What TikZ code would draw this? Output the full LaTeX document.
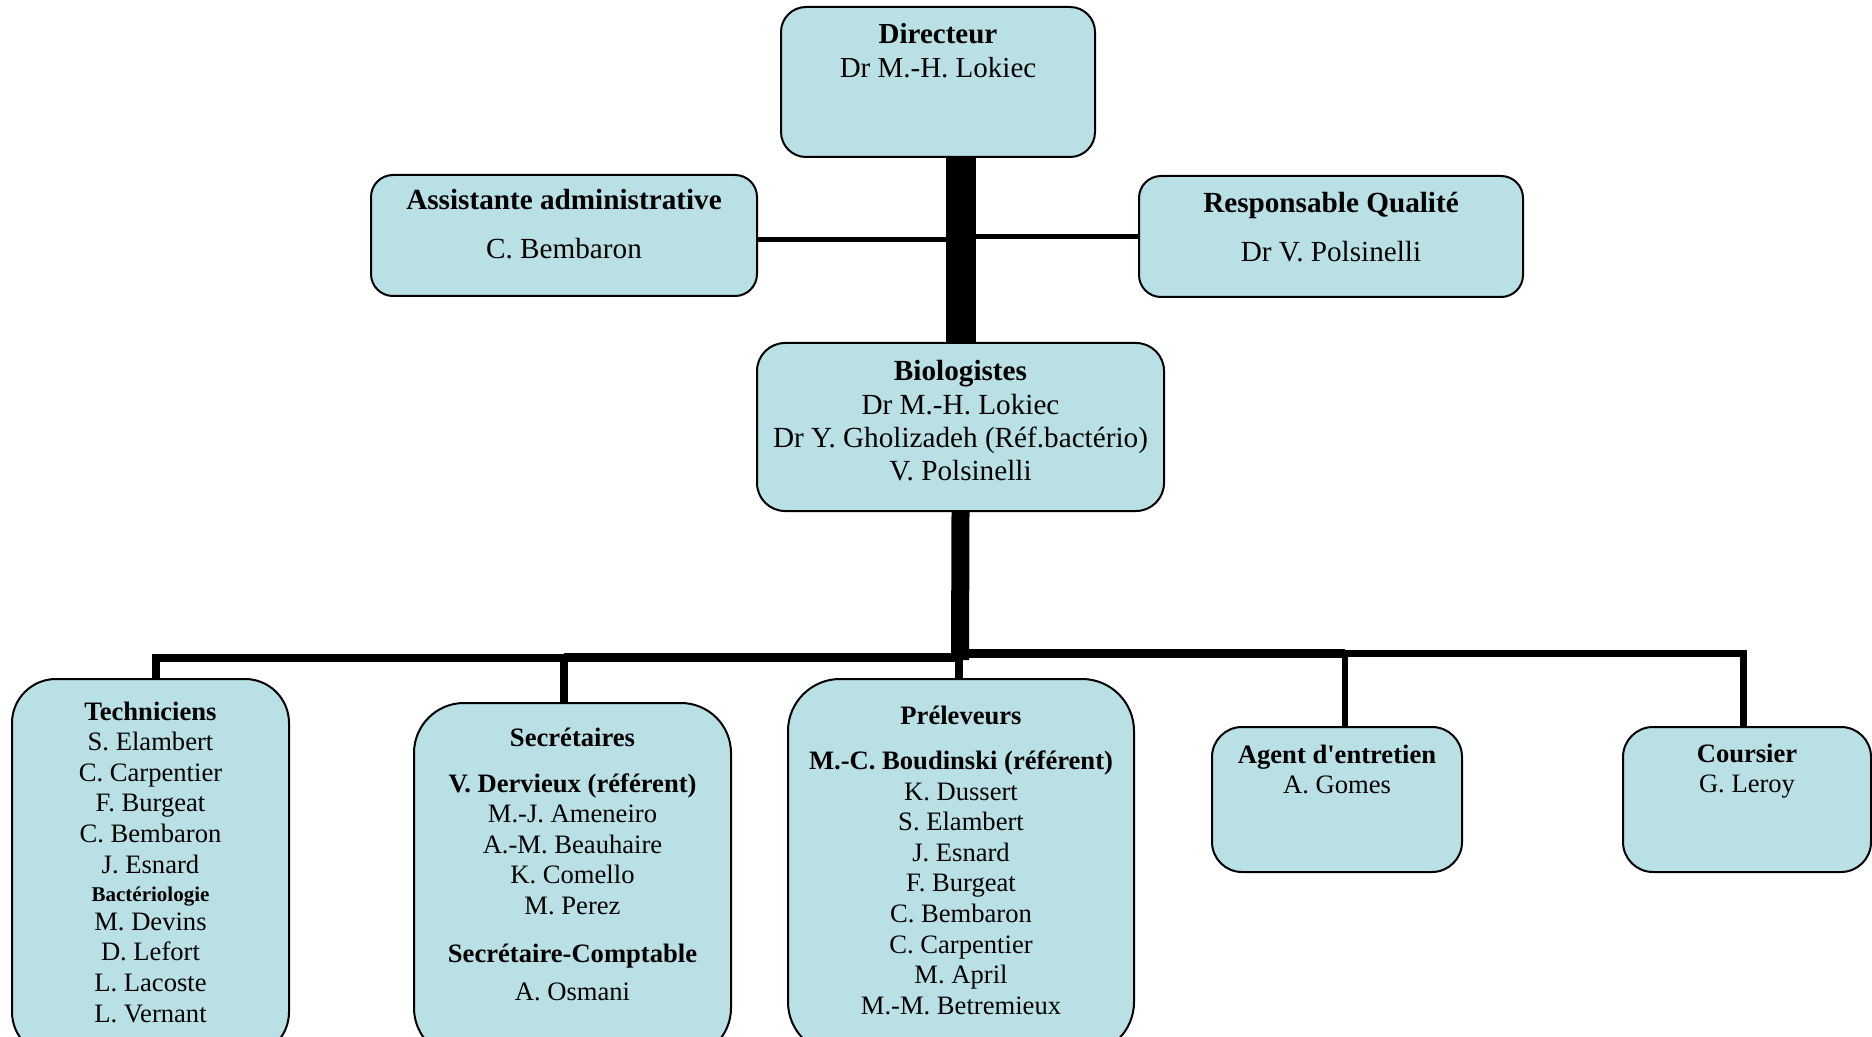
\documentclass[tikz,border=0pt]{standalone}
\usepackage{fontspec}
\setmainfont{Liberation Serif}
\usetikzlibrary{fit,calc}
\definecolor{boxfill}{RGB}{185,224,228}
\pgfdeclarelayer{bg}
\pgfsetlayers{bg,main}
\tikzset{
  orgbox/.style={draw=black, line width=1pt, fill=boxfill, inner sep=0pt, rectangle},
  toptxt/.style={align=center, inner sep=0pt, anchor=north, font=\fontsize{14.6}{17.2}\selectfont},
  bottxt/.style={align=center, inner sep=0pt, anchor=north, font=\fontsize{13.3}{15.3}\selectfont},
  conn/.style={draw=black, line join=miter, line cap=butt},
}
\begin{document}
\begin{tikzpicture}[x=0.5pt,y=-0.5pt]
\path[use as bounding box] (0,0) rectangle (1872,1037);
\clip (0,0) rectangle (1872,1037);

% boxes
\node[orgbox, rounded corners=12.5pt, fit={(781,7) (1095,157)}] (dir) {};
\node[orgbox, rounded corners=11pt, fit={(371,175) (757,296)}] (asst) {};
\node[orgbox, rounded corners=11pt, fit={(1139,176) (1523,297)}] (resp) {};
\node[orgbox, rounded corners=14pt, fit={(757,343) (1164,511)}] (bio) {};
\node[orgbox, rounded corners=22pt, fit={(12,679) (289,1056)}] (tech) {};
\node[orgbox, rounded corners=25pt, fit={(414,703) (731,1058)}] (secr) {};
\node[orgbox, rounded corners=26pt, fit={(788,679) (1134,1054)}] (prel) {};
\node[orgbox, rounded corners=15pt, fit={(1212,727) (1462,872)}] (agent) {};
\node[orgbox, rounded corners=15pt, fit={(1623,727) (1871,872)}] (cour) {};

% texts
\node[toptxt, font=\fontsize{14.5}{17.2}\selectfont] (dirT) at (938,18.6)
  {\strut\textbf{Directeur}\\Dr M.-H. Lokiec};
\node[toptxt] (asstT) at (564,185.2)
  {\strut\textbf{Assistante administrative}\\[7.3pt]C. Bembaron};
\node[toptxt] (respT) at (1331,188.2)
  {\strut\textbf{Responsable Qualité}\\[7.3pt]Dr V. Polsinelli};
\node[toptxt, font=\fontsize{14.6}{16.65}\selectfont] (bioT) at (960.5,357.2)
  {\strut\textbf{Biologistes}\\Dr M.-H. Lokiec\\Dr Y. Gholizadeh (Réf.bactério)\\V. Polsinelli};

\node[bottxt] (techT) at (150.5,698.2)
  {\strut\textbf{Techniciens}\\S. Elambert\\C. Carpentier\\F. Burgeat\\C. Bembaron\\J. Esnard\\[-1.2pt]{\fontsize{10.5}{12}\selectfont\textbf{Bactériologie}}\\[-0.8pt]M. Devins\\D. Lefort\\L. Lacoste\\L. Vernant};
\node[bottxt] (secrT) at (572.5,724.2)
  {\strut\textbf{Secrétaires}\\[7.75pt]\textbf{V. Dervieux (référent)}\\M.-J. Ameneiro\\A.-M. Beauhaire\\K. Comello\\M. Perez\\[8.75pt]\textbf{Secrétaire-Comptable}\\[3.75pt]A. Osmani};
\node[bottxt] (prelT) at (961,702.2)
  {\strut\textbf{Préleveurs}\\[7.4pt]\textbf{M.-C. Boudinski (référent)}\\K. Dussert\\S. Elambert\\J. Esnard\\F. Burgeat\\C. Bembaron\\C. Carpentier\\M. April\\M.-M. Betremieux};
\node[bottxt] (agentT) at (1337,741.4)
  {\strut\textbf{Agent d\textquotesingle entretien}\\A. Gomes};
\node[bottxt] (courT) at (1747,740.4)
  {\strut\textbf{Coursier}\\G. Leroy};

% connectors
\coordinate (trunk) at (961,0);
\coordinate (aj) at ([yshift=-2.2pt]asst.east);
\coordinate (bioEnd) at (960,660);
\coordinate (jT) at (156,657.5);
\coordinate (jS) at (564,657.5);
\coordinate (jP) at (959,653.5);
\coordinate (jA) at (1345,653.5);
\coordinate (jC) at (1743,653.5);
\begin{pgfonlayer}{bg}
\draw[conn, line width=15pt] (dir.south -| trunk) -- (bio.north -| trunk);
\draw[conn, line width=2.5pt] (aj) -- (aj -| trunk);
\draw[conn, line width=2.5pt] (resp.west) -- (resp.west -| trunk);
\draw[conn, line width=9pt] (bio.south) -- (bioEnd);
\draw[conn, line width=4pt] (tech.north -| jT) -- (jT) -- (jS) -- (jS |- secr.north);
\draw[conn, line width=4.5pt] (jS) -- (jS -| jP);
\draw[conn, line width=4.5pt] (jP) -- (jA);
\draw[conn, line width=3.5pt] (jA) -- (jC) -- (jC |- cour.north);
\draw[conn, line width=3pt] (jA) -- (jA |- agent.north);
\draw[conn, line width=4pt] (jP) -- (jP |- prel.north);
\end{pgfonlayer}
\end{tikzpicture}
\end{document}
